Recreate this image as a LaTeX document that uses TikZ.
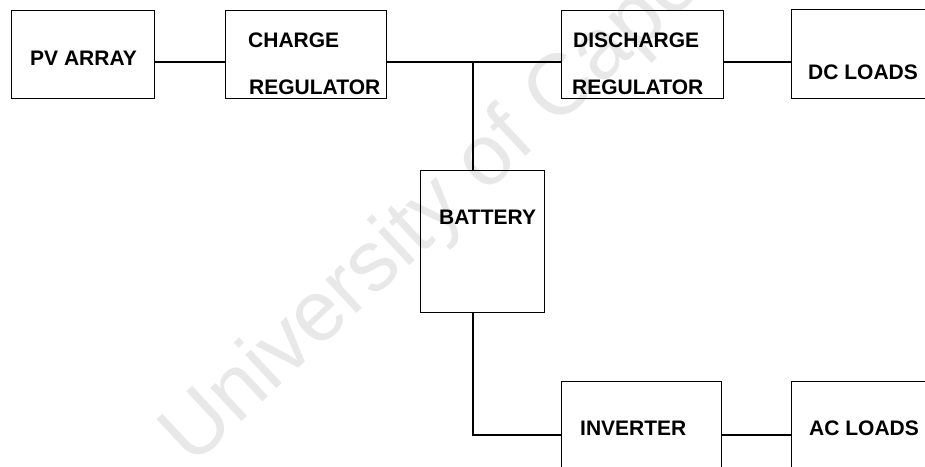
\documentclass[tikz,border=0pt]{standalone}
\usepackage{fontspec}
\setmainfont{Liberation Sans}
\begin{document}
\begin{tikzpicture}[x=1pt,y=-1pt,
  box/.style={draw=black, line width=1.4pt, rectangle, inner sep=0pt, anchor=north west},
  lbl/.style={font=\bfseries\fontsize{21}{21}\selectfont, inner sep=0pt, anchor=base west},
  wire/.style={draw=black, line width=1.4pt},
  wmark/.style={font=\fontsize{86}{86}\selectfont, text=black!9, inner sep=0pt, anchor=base west, rotate=43}]
\useasboundingbox (0,0) rectangle (925,466);
\clip (0,0) rectangle (925,466);
\fill[white] (0,0) rectangle (925,466);
% watermark
\node[wmark] (wm) at (192,468) {University of Cape Town};
% boxes
\node[box, minimum width=143pt, minimum height=88pt] (pv) at (11,10) {};
\node[box, minimum width=161pt, minimum height=88pt] (charge) at (225,10) {};
\node[box, minimum width=162pt, minimum height=88pt] (disch) at (561,10) {};
\node[box, minimum width=160pt, minimum height=89pt] (dc) at (791,9) {};
\node[box, minimum width=124pt, minimum height=142pt] (bat) at (420,170) {};
\node[box, minimum width=160pt, minimum height=110pt] (inv) at (561,381) {};
\node[box, minimum width=160pt, minimum height=110pt] (ac) at (791,381) {};
% labels
\node[lbl] (tpv) at (30,65) {PV ARRAY};
\node[lbl] (tch1) at (248,47) {CHARGE};
\node[lbl] (tch2) at (249,94) {REGULATOR};
\node[lbl] (tdi1) at (573,47) {DISCHARGE};
\node[lbl] (tdi2) at (572,94) {REGULATOR};
\node[lbl] (tdc) at (808,79) {DC LOADS};
\node[lbl] (tbat) at (439,224) {BATTERY};
\node[lbl] (tinv) at (580,435) {INVERTER};
\node[lbl] (tac) at (809,435) {AC LOADS};
% connectors
\coordinate (j) at (473,62);
\coordinate (k) at (473,435);
\draw[wire] (pv.east |- j) -- (charge.west |- j);
\draw[wire] (charge.east |- j) -- (disch.west |- j);
\draw[wire] (disch.east |- j) -- (dc.west |- j);
\draw[wire] (j) -- (j |- bat.north);
\draw[wire] (j |- bat.south) -- (k) -- (inv.west |- k);
\draw[wire] (inv.east |- k) -- (ac.west |- k);
\end{tikzpicture}
\end{document}
